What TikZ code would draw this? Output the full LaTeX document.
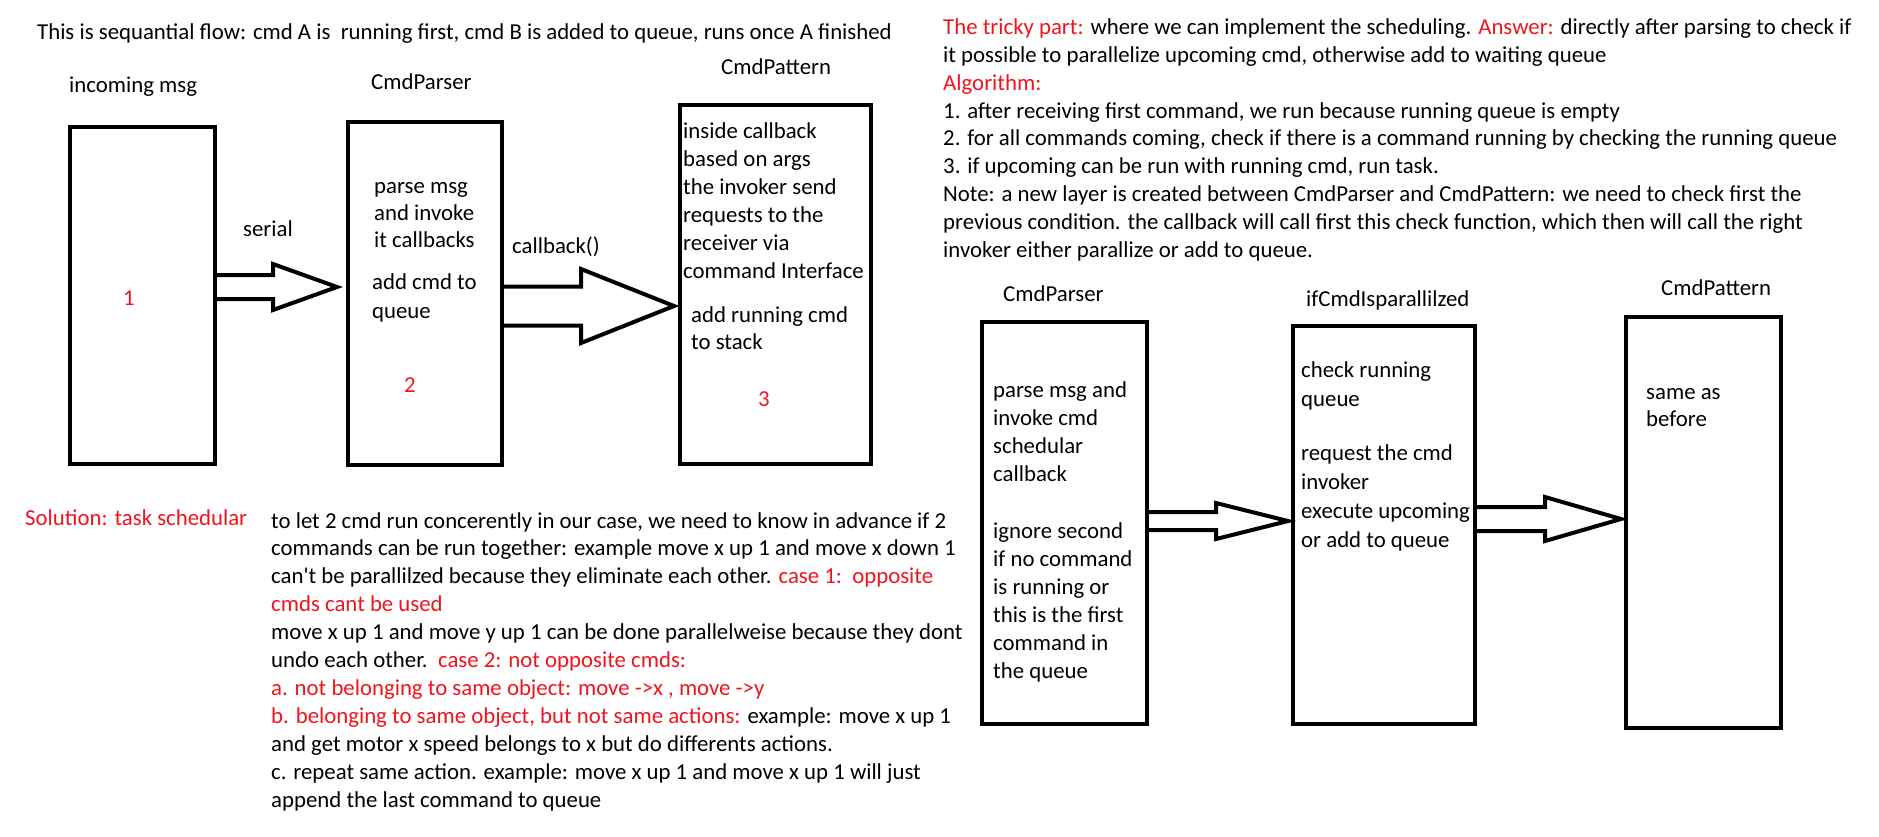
\documentclass[tikz,border=0pt]{standalone}
\usepackage{fontspec}
\setmainfont{Carlito}
\usetikzlibrary{calc}

\definecolor{hl}{RGB}{240,20,30}

\tikzset{
  box/.style={draw, line width=4pt, rectangle, inner sep=0, anchor=north west},
  txt/.style={inner sep=0, anchor=base west, align=left, font=\fontsize{22.8}{27.9}\selectfont},
  blkarrow/.style={draw, line width=4pt, line join=miter}
}

% block arrow: from, to, y of tip, shaft half, head half, head base x, gap at tip
\newcommand{\blkarrow}[7]{%
  \draw[blkarrow] ($(#1.east|-0,#3)+(0,-#4)$) -- (#6,#3-#4) -- (#6,#3-#5)
    -- ($(#2.west|-0,#3)+(-#7,0)$) -- (#6,#3+#5) -- (#6,#3+#4)
    -- ($(#1.east|-0,#3)+(0,#4)$);}

\begin{document}
\begin{tikzpicture}[x=1pt, y=-1pt]
    \useasboundingbox[fill=white] (0,0) rectangle (1879,836);

    % Sequential flow (multi-line texts sit on the baseline of their last line)
    \node[txt] (seqhead) at (37,39) {This is sequantial flow: cmd A is\ \ running first, cmd B is added to queue, runs once A finished};

    \node[txt] (msglbl) at (69,92) {incoming msg};
    \node[box, minimum width=145pt, minimum height=337pt] (msg) at (68,125) {};
    \node[txt, anchor=base, text=hl] (one) at (129,305) {1};

    \node[txt] (serial) at (243,236) {serial};

    \node[txt] (parserlbl) at (371,89) {CmdParser};
    \node[box, minimum width=154pt, minimum height=343pt] (parser) at (346,120) {};
    \node[txt, font=\fontsize{22.8}{27}\selectfont] (parsetxt) at (374,247) {parse msg\\and invoke\\it callbacks};
    \node[txt, font=\fontsize{22.8}{29}\selectfont] (queuetxt) at (372,318) {add cmd to\\queue};
    \node[txt, anchor=base, text=hl] (two) at (410,392) {2};

    \node[txt] (cblbl) at (512,253) {callback()};

    \node[txt] (patternlbl) at (721,74) {CmdPattern};
    \node[box, minimum width=191pt, minimum height=359pt] (pattern) at (678,103) {};
    \node[txt, font=\fontsize{22.8}{28}\selectfont] (invtxt) at (683,278) {inside callback\\based on args\\the invoker send\\requests to the\\receiver via\\command Interface};
    \node[txt, font=\fontsize{22.8}{27}\selectfont] (stacktxt) at (691,349) {add running cmd\\to stack};
    \node[txt, anchor=base, text=hl] (three) at (764,406) {3};

    \blkarrow{msg}{parser}{287}{12}{23}{273}{9}
    \blkarrow{parser}{pattern}{306}{19.5}{37}{581}{4}

    % Solution text
    \node[txt, text=hl] (sol) at (25,525) {Solution: task schedular};
    \node[txt] (cases) at (271,807) {to let 2 cmd run concerently in our case, we need to know in advance if 2\\
commands can be run together: example move x up 1 and move x down 1\\
can\textquotesingle t be parallilzed because they eliminate each other. \textcolor{hl}{case 1:\ \ opposite}\\
\textcolor{hl}{cmds cant be used}\\
move x up 1 and move y up 1 can be done parallelweise because they dont\\
undo each other.\ \ \textcolor{hl}{case 2: not opposite cmds:}\\
\textcolor{hl}{a. not belonging to same object: move ->x , move ->y}\\
\textcolor{hl}{b. belonging to same object, but not same actions:} example: move x up 1\\
and get motor x speed belongs to x but do differents actions.\\
c. repeat same action. example: move x up 1 and move x up 1 will just\\
append the last command to queue};

    % Tricky part
    \node[txt] (tricky) at (943,257.5) {\textcolor{hl}{The tricky part:} where we can implement the scheduling. \textcolor{hl}{Answer:} directly after parsing to check if\\
it possible to parallelize upcoming cmd, otherwise add to waiting queue\\
\textcolor{hl}{Algorithm:}\\
1. after receiving first command, we run because running queue is empty\\
2. for all commands coming, check if there is a command running by checking the running queue\\
3. if upcoming can be run with running cmd, run task.\\
Note: a new layer is created between CmdParser and CmdPattern: we need to check first the\\
previous condition. the callback will call first this check function, which then will call the right\\
invoker either parallize or add to queue.};

    % Scheduled flow
    \node[txt] (parserblbl) at (1003,301) {CmdParser};
    \node[box, minimum width=165pt, minimum height=402pt] (parserb) at (980,320) {};
    \node[txt, font=\fontsize{22.8}{28}\selectfont] (schedtxt) at (993,481.5) {parse msg and\\invoke cmd\\schedular\\callback};
    \node[txt, font=\fontsize{22.8}{28}\selectfont] (ignoretxt) at (993,678) {ignore second\\if no command\\is running or\\this is the first\\command in\\the queue};

    \node[txt] (checklbl) at (1306,306) {ifCmdIsparallilzed};
    \node[box, minimum width=182pt, minimum height=398pt] (check) at (1291,324) {};
    \node[txt, font=\fontsize{22.8}{29}\selectfont] (runtxt) at (1301,406) {check running\\queue};
    \node[txt, font=\fontsize{22.8}{28.7}\selectfont] (reqtxt) at (1301,547) {request the cmd\\invoker\\execute upcoming\\or add to queue};

    \node[txt] (patternblbl) at (1661,295) {CmdPattern};
    \node[box, minimum width=155pt, minimum height=411pt] (patternb) at (1624,315) {};
    \node[txt, font=\fontsize{22.8}{27}\selectfont] (sametxt) at (1646,426) {same as\\before};

    \blkarrow{parserb}{check}{521}{9}{18}{1216}{3}
    \blkarrow{check}{patternb}{519}{12}{22}{1545}{3}
\end{tikzpicture}
\end{document}
